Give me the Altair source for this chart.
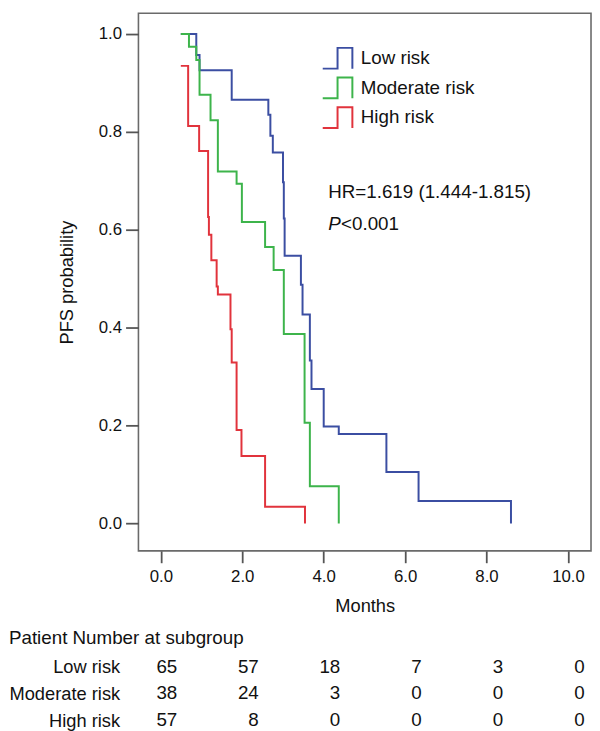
import altair as alt
import pandas as pd

FONT = "Liberation Sans"

groups = ["Low risk", "Moderate risk", "High risk"]
colors = ["#3B4EA2", "#3DB44B", "#E1333C"]

# Kaplan-Meier steps: time (months) of each drop and the survival after it
low_t = [0.49, 0.87, 0.95, 1.74, 2.64, 2.69, 2.75, 3.00, 3.02, 3.04, 3.44, 3.48,
         3.66, 3.70, 4.00, 4.37, 5.54, 6.33, 8.60]
low_s = [1.000, 0.957, 0.926, 0.866, 0.835, 0.792, 0.758, 0.697, 0.623, 0.547, 0.488,
         0.427, 0.333, 0.275, 0.198, 0.183, 0.105, 0.046, 0.000]
mod_t = [0.49, 0.69, 0.87, 0.95, 1.22, 1.40, 1.86, 1.99, 2.56, 2.77, 3.02, 3.53, 3.66, 4.37]
mod_s = [1.000, 0.974, 0.947, 0.876, 0.824, 0.719, 0.694, 0.616, 0.565, 0.518, 0.387,
         0.206, 0.076, 0.000]
high_t = [0.49, 0.67, 0.94, 1.16, 1.18, 1.24, 1.37, 1.40, 1.71, 1.74, 1.86, 1.98, 2.56, 3.54]
high_s = [0.935, 0.812, 0.761, 0.626, 0.590, 0.538, 0.484, 0.468, 0.397, 0.329, 0.191,
          0.138, 0.034, 0.000]

risk_times = [0, 2, 4, 6, 8, 10]
risk_low = [65, 57, 18, 7, 3, 0]
risk_mod = [38, 24, 3, 0, 0, 0]
risk_high = [57, 8, 0, 0, 0, 0]

x_ticks = [0, 2, 4, 6, 8, 10]
y_ticks = [0.0, 0.2, 0.4, 0.6, 0.8, 1.0]

hr_text = "HR=1.619 (1.444-1.815)"
p_italic = "P"
p_rest = "<0.001"
table_title = "Patient Number at subgroup"

# ---- build tables ----
rows = []
for g, ts, ss in zip(groups, [low_t, mod_t, high_t], [low_s, mod_s, high_s]):
    for t, s in zip(ts, ss):
        rows.append({"group": g, "t": t, "s": s})
curves = pd.DataFrame(rows)

trows = []
for g, ns in zip(groups, [risk_low, risk_mod, risk_high]):
    for t, n in zip(risk_times, ns):
        trows.append({"group": g, "time": t, "n": n})
risk_df = pd.DataFrame(trows)

LEGEND_PATH = "M-1.2,0.84L0,0.84L0,-0.84L1.2,-0.84L1.2,0.84"

xscale = alt.Scale(domain=[-0.551, 10.566], nice=False, zero=False)
yscale = alt.Scale(domain=[-0.0559, 1.0424], nice=False, zero=False)

lines = alt.Chart(curves).mark_line(interpolate="step-after", strokeWidth=2).encode(
    x=alt.X("t:Q", scale=xscale, title="Months",
            axis=alt.Axis(values=x_ticks, format=".1f", tickSize=12, labelPadding=6,
                          titlePadding=12)),
    y=alt.Y("s:Q", scale=yscale, title="PFS probability",
            axis=alt.Axis(values=y_ticks, format=".1f", tickSize=13, labelPadding=4,
                          titlePadding=22)),
    color=alt.Color("group:N", scale=alt.Scale(domain=groups, range=colors),
                    legend=alt.Legend(title=None, orient="none", legendX=188, legendY=32,
                                      symbolType=LEGEND_PATH, symbolSize=625,
                                      symbolStrokeWidth=2, symbolFillColor="transparent",
                                      labelFontSize=19, labelFont=FONT, labelColor="#111",
                                      labelOffset=10, rowPadding=1, padding=0)),
)

hr = alt.Chart().mark_text(align="left", baseline="middle", fontSize=19, font=FONT,
                           color="#111").encode(
    x=alt.datum(4.11), y=alt.datum(0.677), text=alt.value(hr_text))
p1 = alt.Chart().mark_text(align="left", baseline="middle", fontSize=19, font=FONT,
                           fontStyle="italic", color="#111").encode(
    x=alt.datum(4.11), y=alt.datum(0.612), text=alt.value(p_italic))
p2 = alt.Chart().mark_text(align="left", baseline="middle", fontSize=19, font=FONT,
                           color="#111", dx=13).encode(
    x=alt.datum(4.11), y=alt.datum(0.612), text=alt.value(p_rest))

main = alt.layer(lines, hr, p1, p2).properties(width=458, height=544)

table = alt.Chart(risk_df).mark_text(align="right", baseline="middle", fontSize=19,
                                     font=FONT, color="#111").encode(
    x=alt.X("time:Q", scale=alt.Scale(domain=[-0.953, 10.153], nice=False, zero=False),
            axis=None),
    y=alt.Y("group:N", sort=groups, scale=alt.Scale(type="point", padding=0.2),
            axis=alt.Axis(title=None, domain=False, ticks=False, labelPadding=19,
                          labelFontSize=18.5, labelFont=FONT, labelColor="#111",
                          labelAlign="right")),
    text="n:Q",
).properties(
    width=458, height=64.8,
    title=alt.TitleParams(table_title, anchor="start", frame="bounds", fontSize=19,
                          fontWeight="normal", font=FONT, color="#111", offset=10),
    view=alt.ViewBackground(stroke="transparent"),
)

chart = alt.vconcat(main, table, spacing=12).properties(
    padding={"left": 0, "top": 0, "right": 0, "bottom": 0}
).configure(font=FONT).configure_view(stroke="#6a6a6a", strokeWidth=1.6).configure_axis(
    grid=False, domain=False, tickColor="#555555", tickWidth=1.8,
    labelFont=FONT, labelFontSize=17, labelColor="#111111",
    titleFont=FONT, titleFontSize=18.5, titleFontWeight="normal", titleColor="#111111",
)

chart.save("out.html", embed_options={"renderer": "svg", "actions": False})
